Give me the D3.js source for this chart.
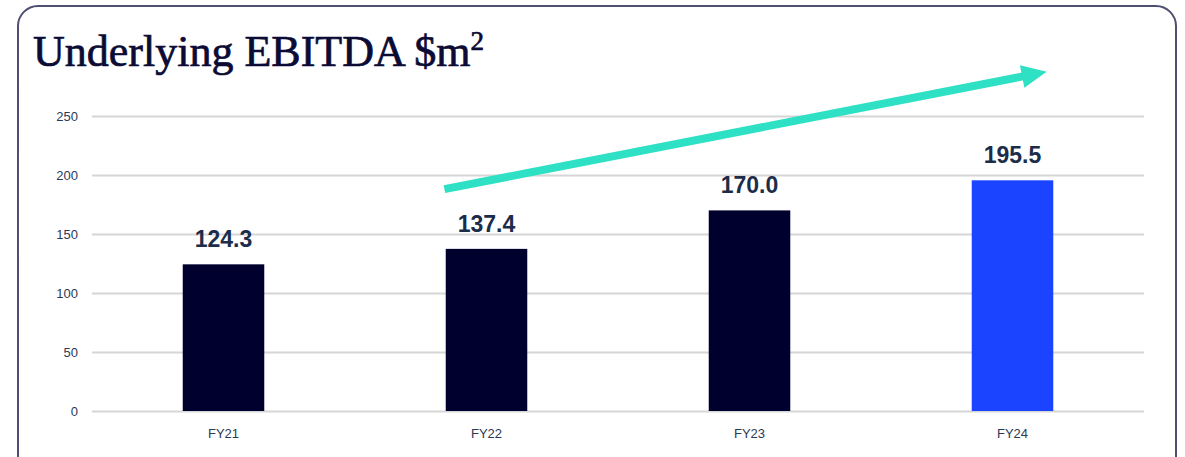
<!DOCTYPE html>
<html>
<head>
<meta charset="utf-8">
<script src="https://cdn.jsdelivr.net/npm/d3@7"></script>
<style>
  body { margin: 0; background: #fff; }
  svg { display: block; }
</style>
</head>
<body>
<svg width="1185" height="457"></svg>
<script>
var years = ['FY21', 'FY22', 'FY23', 'FY24'];
var ebitda = [124.3, 137.4, 170.0, 195.5];
var yTicks = [0, 50, 100, 150, 200, 250];
// trend arrow endpoints, in data terms (band index, value)
var arrowFrom = [0.84, 188];
var arrowTo = [3.13, 287.5];

function drawChart() {
    var svg = d3.select('svg');

    // card frame
    svg.append('rect')
        .attr('x', 18).attr('y', 6)
        .attr('width', 1158).attr('height', 480)
        .attr('rx', 20)
        .attr('fill', 'none')
        .attr('stroke', '#4f4f72')
        .attr('stroke-width', 2);

    var title = svg.append('text')
        .attr('x', 33).attr('y', 66)
        .attr('font-family', 'Liberation Serif, serif')
        .attr('font-size', 44)
        .attr('fill', '#0b0b35')
        .attr('stroke', '#0b0b35')
        .attr('stroke-width', 0.7)
        .text('Underlying EBITDA $m');
    title.append('tspan')
        .attr('font-size', 27)
        .attr('dy', -16)
        .text('2');

    var x = d3.scaleBand()
        .domain(years)
        .range([92, 1144])
        .paddingInner(0.69)
        .paddingOuter(0.345);

    var y = d3.scaleLinear()
        .domain([0, 250])
        .range([411, 116]);

    // grid + y labels
    var yAxis = svg.append('g')
        .attr('transform', 'translate(92,0)')
        .call(d3.axisLeft(y).tickValues(yTicks).tickSize(-1052).tickPadding(14));
    yAxis.select('.domain').remove();
    yAxis.selectAll('line').attr('stroke', '#d6d6d6').attr('stroke-width', 2);
    yAxis.selectAll('text')
        .attr('font-family', 'Liberation Sans, Arial, sans-serif')
        .attr('font-size', 13)
        .attr('fill', '#2a3a55');

    // x labels
    var xAxis = svg.append('g')
        .attr('transform', 'translate(0,411)')
        .call(d3.axisBottom(x).tickSize(0).tickPadding(18));
    xAxis.select('.domain').remove();
    xAxis.selectAll('text')
        .attr('font-family', 'Liberation Sans, Arial, sans-serif')
        .attr('font-size', 13)
        .attr('fill', '#2a3a55');

    var bars = svg.selectAll('.bar')
        .data(ebitda)
        .enter().append('g')
        .attr('class', 'bar');
    bars.append('rect')
        .attr('x', (d, i) => x(years[i]))
        .attr('y', d => y(d))
        .attr('width', x.bandwidth())
        .attr('height', d => y(0) - y(d))
        .attr('fill', (d, i) => i === ebitda.length - 1 ? '#1a44ff' : '#00002f');
    bars.append('text')
        .attr('x', (d, i) => x(years[i]) + x.bandwidth() / 2)
        .attr('y', d => y(d) - 17)
        .attr('text-anchor', 'middle')
        .attr('font-family', 'Liberation Sans, Arial, sans-serif')
        .attr('font-weight', 'bold')
        .attr('font-size', 23)
        .attr('fill', '#1b2d4a')
        .text(d => d.toFixed(1));

    // trend arrow
    var step = x.step();
    var ax = i => x.range()[0] + step * (0.5 + i);
    var x1 = ax(arrowFrom[0]), y1 = y(arrowFrom[1]);
    var x2 = ax(arrowTo[0]), y2 = y(arrowTo[1]);
    var ang = Math.atan2(y2 - y1, x2 - x1);
    var headLen = 25, headHalf = 11.5;
    var bx = x2 - headLen * Math.cos(ang), by = y2 - headLen * Math.sin(ang);
    svg.append('line')
        .attr('x1', x1).attr('y1', y1)
        .attr('x2', bx + 2 * Math.cos(ang)).attr('y2', by + 2 * Math.sin(ang))
        .attr('stroke', '#2ee0c4')
        .attr('stroke-width', 8);
    var px = -Math.sin(ang), py = Math.cos(ang);
    svg.append('path')
        .attr('d', 'M' + x2 + ',' + y2 +
            'L' + (bx + headHalf * px) + ',' + (by + headHalf * py) +
            'L' + (bx - headHalf * px) + ',' + (by - headHalf * py) + 'Z')
        .attr('fill', '#2ee0c4');
}
drawChart();
</script>
</body>
</html>
